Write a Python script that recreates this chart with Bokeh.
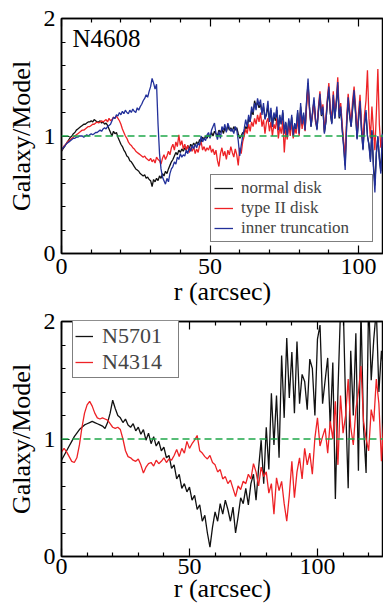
from bokeh.plotting import figure
from bokeh.models import Range1d, FixedTicker, LinearAxis, Span, Legend, LegendItem, Label
from bokeh.layouts import column
from bokeh.embed import file_html
from bokeh.resources import INLINE

FONT = "'Liberation Serif', 'Times New Roman', Times, serif"

# ---------------- data: top panel (N4608), r step 0.5 arcsec ----------------
top_r_step = 0.5
top_normal = [
    0.87, 0.89, 0.91, 0.93, 0.95, 0.97, 0.99,
    1.00, 1.02, 1.03, 1.05, 1.06, 1.07, 1.08, 1.09,
    1.10, 1.10, 1.11, 1.12, 1.12, 1.13, 1.12, 1.14, 1.13, 1.12,
    1.12, 1.13, 1.11, 1.12, 1.10, 1.11, 1.09, 1.06,
    1.03, 1.00, 1.04, 1.02, 1.03, 0.99, 0.96, 0.93,
    0.91, 0.88, 0.86, 0.83, 0.82, 0.79, 0.78, 0.76,
    0.74, 0.72, 0.71, 0.70, 0.68, 0.67,
    0.66, 0.67, 0.64, 0.65, 0.63, 0.62,
    0.57, 0.63, 0.61, 0.64, 0.62, 0.66,
    0.64, 0.68, 0.66, 0.70, 0.68, 0.72, 0.75, 0.78,
    0.80, 0.83, 0.86, 0.84, 0.88, 0.86, 0.89, 0.87,
    0.90, 0.88, 0.92, 0.89, 0.93, 0.91, 0.94, 0.92,
    0.95, 0.93, 0.97, 0.95, 0.99, 0.97, 1.00, 0.98,
    1.01, 0.99, 1.03, 1.00, 1.04, 1.02, 1.00, 1.05,
    1.03, 1.06, 1.02, 1.07, 1.04, 1.09, 1.05, 1.07,
    1.04, 1.08, 1.05, 1.07, 1.02, 0.98, 1.00, 1.03,
    1.02, 1.08, 1.06, 1.15, 1.12, 1.22, 1.18, 1.30,
    1.25, 1.29, 1.24, 1.27, 1.20, 1.25, 1.15, 1.18,
    1.26, 1.12, 1.22, 1.08, 1.18, 1.13, 1.22, 1.06,
    1.16, 1.10, 1.20, 1.03, 1.11, 1.00, 1.13, 1.05,
    1.16, 1.01, 1.10, 1.05, 1.20, 1.03, 1.25, 1.09,
    1.18, 1.05, 1.28, 1.45, 1.23, 1.08, 1.19, 1.30,
    1.14, 1.06, 1.21, 1.33, 1.17, 1.23, 1.03, 1.12,
    1.28, 1.40, 1.19, 1.11, 1.33, 1.15, 1.27, 1.43,
    1.15, 1.23, 1.06, 0.92, 0.75, 1.10, 1.30, 1.17,
    1.08, 1.23, 1.36, 1.19, 0.98, 1.14, 1.28, 1.05,
    0.89, 1.10, 1.20, 1.00, 0.93, 0.80, 1.04, 0.76,
    0.58, 0.86, 0.99, 0.82, 0.70, 1.00,
]
top_type2 = [
    0.88, 0.90, 0.92, 0.93, 0.95, 0.96, 0.97,
    0.98, 0.99, 1.00, 1.01, 1.02, 1.03, 1.04, 1.05,
    1.05, 1.06, 1.07, 1.08, 1.08, 1.09, 1.10, 1.10, 1.11, 1.12,
    1.11, 1.12, 1.13, 1.12, 1.13, 1.14, 1.12, 1.15,
    1.13, 1.14, 1.16, 1.15, 1.17, 1.15, 1.13, 1.10,
    1.06, 1.03, 1.00, 0.98, 0.95, 0.93, 0.92, 0.90,
    0.89, 0.87, 0.86, 0.85, 0.84, 0.83,
    0.82, 0.83, 0.81, 0.80, 0.79, 0.81,
    0.78, 0.80, 0.77, 0.82, 0.80, 0.79,
    0.76, 0.81, 0.84, 0.80, 0.83, 0.87, 0.84, 0.90,
    0.93, 0.88, 0.95, 0.91, 1.01, 0.92, 0.96, 0.89,
    0.93, 0.88, 0.92, 0.86, 0.90, 0.87, 0.91, 0.85,
    0.89, 0.86, 0.92, 0.95, 0.88, 0.91, 0.87, 0.90,
    0.88, 0.92, 0.86, 0.89, 0.84, 0.88, 0.79, 0.74,
    0.85, 0.90, 0.83, 0.87, 0.80, 0.88, 0.84, 0.91,
    0.86, 0.82, 0.89, 0.84, 0.75, 0.90, 0.85, 0.95,
    1.00, 1.06, 1.02, 1.10, 1.04, 1.12, 1.08, 1.15,
    1.10, 1.18, 1.12, 1.20, 1.08, 1.14, 1.02, 1.12,
    1.15, 1.04, 1.12, 1.00, 1.10, 1.06, 1.15, 0.98,
    1.08, 1.02, 1.13, 0.86, 1.05, 0.97, 1.10, 1.00,
    1.12, 0.98, 1.06, 1.02, 1.15, 1.00, 1.22, 1.06,
    1.16, 1.04, 1.25, 1.42, 1.22, 1.10, 1.18, 1.30,
    1.12, 1.08, 1.25, 1.38, 1.20, 1.27, 1.05, 1.15,
    1.32, 1.45, 1.22, 1.15, 1.38, 1.20, 1.30, 1.50,
    1.20, 1.28, 1.10, 0.95, 0.82, 1.15, 1.36, 1.22,
    1.12, 1.30, 1.42, 1.25, 1.02, 1.20, 1.35, 1.10,
    0.95, 1.18, 1.30, 1.56, 1.15, 0.98, 1.25, 1.05,
    0.88, 1.20, 1.57, 1.10, 0.90, 1.00,
]
top_inner = [
    0.88, 0.90, 0.91, 0.93, 0.94, 0.95, 0.96,
    0.97, 0.98, 0.98, 0.99, 0.99, 1.00, 1.00, 1.00,
    0.99, 1.00, 1.01, 1.00, 1.01, 1.02, 1.01, 1.02, 1.03, 1.03,
    1.04, 1.05, 1.04, 1.06, 1.07, 1.06, 1.08, 1.09,
    1.10, 1.13, 1.16, 1.15, 1.18, 1.17, 1.20, 1.18,
    1.21, 1.19, 1.22, 1.20, 1.19, 1.22, 1.20, 1.23,
    1.21, 1.20, 1.24, 1.22, 1.25, 1.27,
    1.30, 1.32, 1.35, 1.33, 1.38, 1.42,
    1.49, 1.45, 1.40, 1.44, 1.10, 0.85,
    0.72, 0.65, 0.62, 0.59, 0.64, 0.61, 0.68, 0.72,
    0.74, 0.78, 0.76, 0.82, 0.80, 0.85, 0.82, 0.84,
    0.83, 0.88, 0.85, 0.90, 0.87, 0.92, 0.89, 0.93,
    0.90, 0.94, 0.92, 1.00, 0.95, 0.98, 0.96, 1.01,
    1.03, 0.98, 1.05, 1.08, 1.11, 1.02, 0.97, 1.04,
    0.98, 1.08, 1.05, 1.10, 1.03, 1.11, 1.07, 1.04,
    1.06, 1.02, 1.08, 1.05, 0.96, 0.83, 0.92, 1.00,
    1.06, 1.14, 1.08, 1.18, 1.12, 1.25, 1.20, 1.28,
    1.22, 1.32, 1.26, 1.31, 1.18, 1.28, 1.14, 1.20,
    1.30, 1.12, 1.24, 1.08, 1.20, 1.15, 1.25, 1.05,
    1.18, 1.10, 1.22, 1.02, 1.12, 0.99, 1.15, 1.05,
    1.18, 1.00, 1.11, 1.06, 1.22, 1.02, 1.28, 1.10,
    1.20, 1.05, 1.30, 1.49, 1.25, 1.08, 1.20, 1.33,
    1.15, 1.05, 1.22, 1.36, 1.18, 1.25, 1.02, 1.12,
    1.30, 1.42, 1.20, 1.10, 1.35, 1.15, 1.28, 1.46,
    1.16, 1.25, 1.05, 0.90, 0.71, 1.10, 1.33, 1.18,
    1.08, 1.25, 1.39, 1.20, 0.97, 1.15, 1.30, 1.05,
    0.88, 1.10, 1.22, 1.00, 0.92, 0.78, 1.05, 0.74,
    0.52, 0.85, 1.00, 0.80, 0.68, 1.02,
]

# ---------------- data: bottom panel, r step 1 arcsec ----------------
bot_r_step = 1.0
bot_n5701 = [
    0.82, 0.86, 0.90, 0.94, 0.98, 1.02, 1.05, 1.08, 1.10, 1.12,
    1.13, 1.14, 1.15, 1.14, 1.13, 1.12, 1.11, 1.09, 1.14, 1.22,
    1.33, 1.26, 1.20, 1.18, 1.14, 1.17, 1.12, 1.10, 1.13, 1.07,
    1.10, 1.04, 1.08, 0.99, 1.05, 0.96, 1.02, 0.94, 0.98, 0.90,
    0.93, 0.84, 0.86, 0.75, 0.78, 0.66, 0.70, 0.58, 0.62, 0.55,
    0.59, 0.48, 0.52, 0.40, 0.44, 0.30, 0.35, 0.20, 0.08, 0.25,
    0.38, 0.30, 0.45, 0.36, 0.48, 0.40, 0.30, 0.42, 0.20, 0.34,
    0.50, 0.45, 0.58, 0.44, 0.62, 0.70, 0.48, 0.75, 0.99, 0.62,
    1.10, 0.74, 1.39, 0.95, 1.37, 0.84, 1.71, 1.18, 1.86, 1.35,
    1.74, 1.22, 1.83, 1.30, 1.55, 1.49, 1.25, 1.68, 1.60, 1.20,
    1.85, 1.97, 1.30, 1.50, 1.69, 1.10, 1.65, 0.49, 1.40, 2.10,
    2.20, 1.30, 0.58, 1.75, 1.20, 1.90, 0.73, 2.10, 1.10, 0.71,
    2.20, 1.50, 1.85, 2.10, 1.40, 1.75, 1.55,
]
bot_n4314 = [
    0.89, 0.92, 0.89, 0.85, 0.81, 0.80, 0.84, 0.95, 1.10, 1.22,
    1.29, 1.32, 1.28, 1.22, 1.18, 1.17, 1.18, 1.17, 1.16, 1.13,
    1.10, 1.09, 1.10, 1.08, 1.00, 0.90, 0.85, 0.84, 0.82, 0.81,
    0.83, 0.78, 0.71, 0.76, 0.79, 0.80, 0.77, 0.82, 0.79, 0.81,
    0.84, 0.80, 0.83, 0.82, 0.86, 0.91, 0.85, 0.92, 0.88, 0.98,
    0.92, 0.96, 0.99, 1.03, 0.90, 0.88, 0.85, 0.83, 0.86, 0.80,
    0.78, 0.72, 0.74, 0.66, 0.68, 0.62, 0.65, 0.58, 0.51, 0.60,
    0.57, 0.64, 0.62, 0.70, 0.66, 0.79, 0.72, 0.60, 0.76, 0.68,
    0.72, 0.54, 0.62, 0.36, 0.67, 0.56, 0.64, 0.45, 0.30, 0.52,
    0.81, 0.50, 0.72, 0.84, 0.66, 0.92, 0.78, 0.88, 0.70, 1.01,
    1.18, 0.94, 1.02, 1.09, 0.88, 1.15, 1.00, 1.32, 0.78, 1.37,
    1.05, 1.20, 1.51, 1.10, 0.95, 1.25, 1.40, 1.62, 1.15, 1.00,
    0.90, 1.25, 1.15, 1.51, 1.30, 0.81, 1.20,
]

top_labels = ["normal disk", "type II disk", "inner truncation"]
bot_labels = ["N5701", "N4314"]
x_major = [0, 50, 100]
x_minor_top = [10, 20, 30, 40, 60, 70, 80, 90]
x_minor_bot = [10, 20, 30, 40, 60, 70, 80, 90, 110, 120]
y_major = [0, 1, 2]
y_minor = [0.2, 0.4, 0.6, 0.8, 1.2, 1.4, 1.6, 1.8]

BLACK = "#111111"
RED = "#ee2226"
BLUE = "#22309a"
GREEN = "#1fa84a"


def rvals(vals, step):
    return [i * step for i in range(len(vals))]


def style(p, xminor, tick_fs, lab_fs, bottom_standoff, bottom_lab_standoff):
    p.grid.visible = False
    p.outline_line_color = "black"
    p.outline_line_width = 1.5
    p.background_fill_color = "white"
    p.border_fill_color = "white"
    p.xaxis.ticker = FixedTicker(ticks=x_major, minor_ticks=xminor)
    p.yaxis.ticker = FixedTicker(ticks=y_major, minor_ticks=y_minor)
    for ax in [p.xaxis[0], p.yaxis[0]]:
        ax.axis_line_color = "black"
        ax.axis_line_width = 1.5
        ax.major_tick_in = 8
        ax.major_tick_out = 0
        ax.minor_tick_in = 4
        ax.minor_tick_out = 0
        ax.major_tick_line_color = "black"
        ax.minor_tick_line_color = "black"
        ax.major_tick_line_width = 1.2
        ax.minor_tick_line_width = 1.2
        ax.major_label_text_font = FONT
        ax.major_label_text_font_size = tick_fs
        ax.major_label_text_color = "black"
        ax.axis_label_text_font = FONT
        ax.axis_label_text_font_size = lab_fs
        ax.axis_label_text_font_style = "normal"
        ax.axis_label_text_color = "black"
    p.xaxis.axis_label = "r (arcsec)"
    p.yaxis.axis_label = "Galaxy/Model"
    p.xaxis.major_label_standoff = bottom_standoff
    p.xaxis.axis_label_standoff = bottom_lab_standoff
    p.yaxis.major_label_standoff = 6
    p.yaxis.axis_label_standoff = 5
    top_ax = LinearAxis(ticker=FixedTicker(ticks=x_major, minor_ticks=xminor),
                        major_label_overrides={0: "", 50: "", 100: ""},
                        major_label_text_font_size="1px",
                        major_label_standoff=0,
                        axis_line_color="black", axis_line_width=1.5,
                        major_tick_in=8, major_tick_out=0,
                        minor_tick_in=4, minor_tick_out=0,
                        major_tick_line_color="black", minor_tick_line_color="black",
                        major_tick_line_width=1.2, minor_tick_line_width=1.2)
    p.add_layout(top_ax, "above")
    p.add_layout(Span(location=1, dimension="width", line_color=GREEN,
                      line_width=1.5, line_dash="7 4"))


# ---------------- top figure ----------------
p1 = figure(width=383, height=308, output_backend="svg", toolbar_location=None,
            x_range=Range1d(0, 108.4), y_range=Range1d(0, 2),
            min_border_left=61, min_border_right=0, min_border_top=18, min_border_bottom=54)
style(p1, x_minor_top, "24px", "26px", 5, 0)

l1 = p1.line(rvals(top_normal, top_r_step), top_normal, line_color=BLACK, line_width=1.3)
l2 = p1.line(rvals(top_type2, top_r_step), top_type2, line_color=RED, line_width=1.3)
l3 = p1.line(rvals(top_inner, top_r_step), top_inner, line_color=BLUE, line_width=1.3)

leg1 = Legend(items=[LegendItem(label=top_labels[0], renderers=[l1]),
                     LegendItem(label=top_labels[1], renderers=[l2]),
                     LegendItem(label=top_labels[2], renderers=[l3])],
              location=(149, 11), label_text_font=FONT, label_text_font_size="17px",
              label_height=18, glyph_height=18, glyph_width=19, label_standoff=8,
              label_width=128, spacing=0, padding=3, margin=0,
              border_line_color="black", border_line_width=1.2,
              background_fill_alpha=1.0)
p1.add_layout(leg1)
p1.add_layout(Label(x=3.7, y=1.83, text="N4608", text_font=FONT, text_font_size="25px",
                    text_baseline="alphabetic", text_color="black"))

# ---------------- bottom figure ----------------
p2 = figure(width=383, height=297, output_backend="svg", toolbar_location=None,
            x_range=Range1d(0, 125.8), y_range=Range1d(0, 2),
            min_border_left=61, min_border_right=0, min_border_top=13, min_border_bottom=48)
style(p2, x_minor_bot, "24px", "26px", 2, -3)

m1 = p2.line(rvals(bot_n5701, bot_r_step), bot_n5701, line_color=BLACK, line_width=1.3)
m2 = p2.line(rvals(bot_n4314, bot_r_step), bot_n4314, line_color=RED, line_width=1.3)

leg2 = Legend(items=[LegendItem(label=bot_labels[0], renderers=[m1]),
                     LegendItem(label=bot_labels[1], renderers=[m2])],
              location=(11, 178), label_text_font=FONT, label_text_font_size="22px",
              label_height=24, glyph_height=24, glyph_width=18, label_standoff=9,
              label_width=74, spacing=0, padding=2, margin=0,
              border_line_color="black", border_line_width=1.2,
              background_fill_alpha=1.0)
p2.add_layout(leg2)

layout = column(p1, p2, spacing=0)
open("out.html", "w").write(file_html(layout, INLINE))
